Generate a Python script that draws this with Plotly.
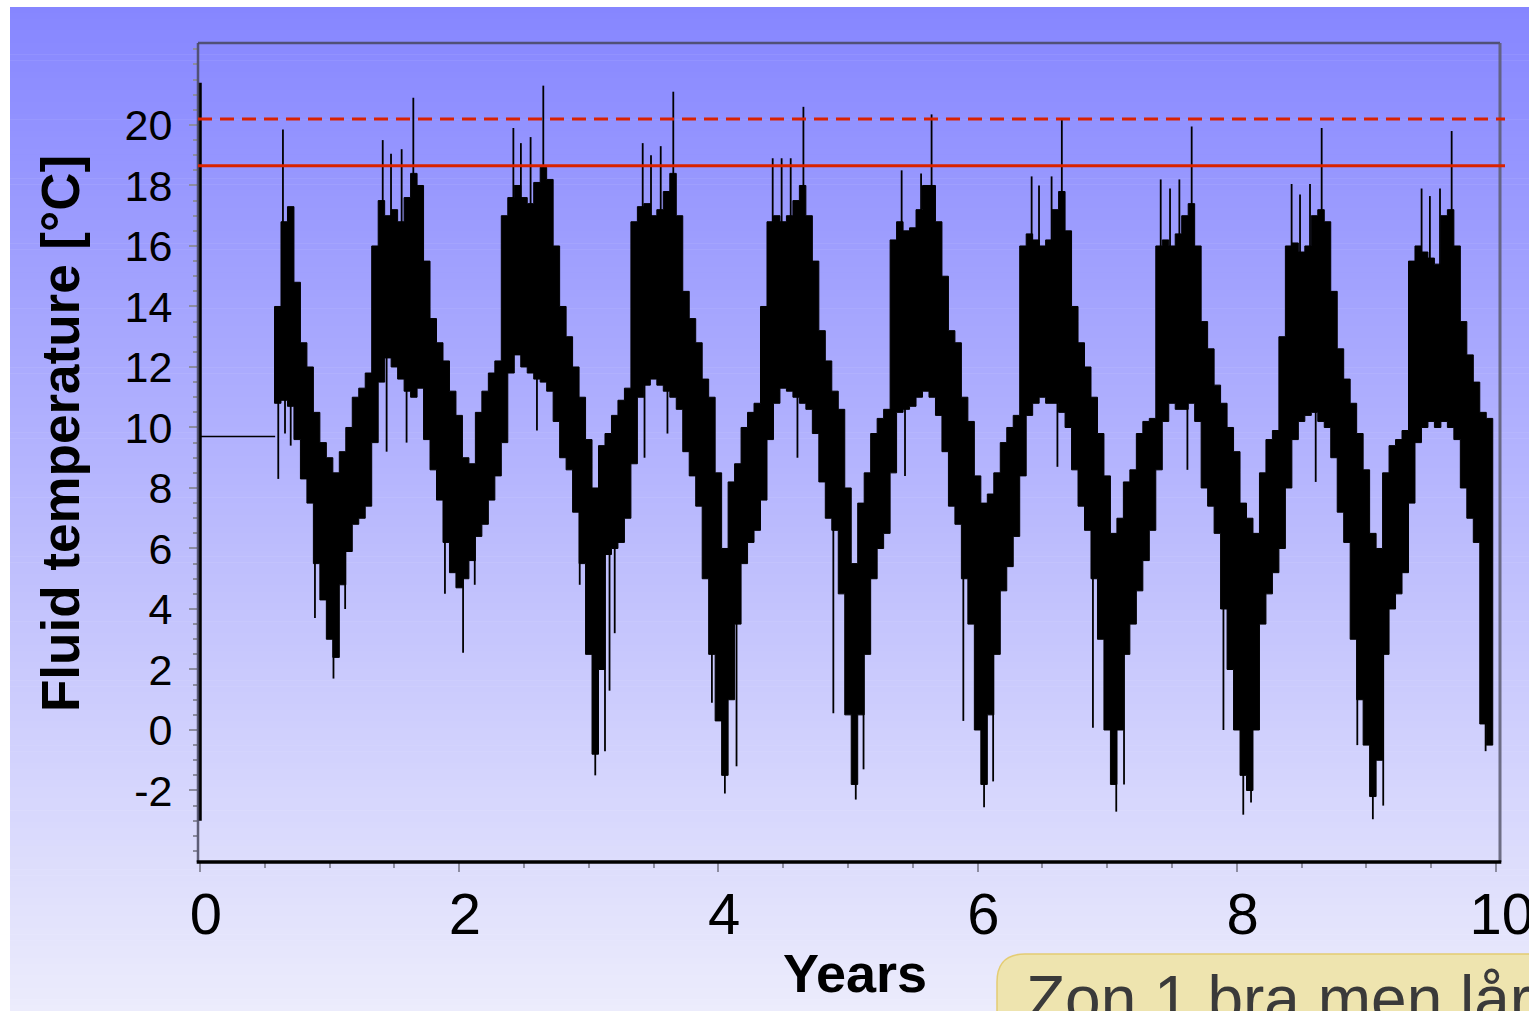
import plotly.graph_objects as go
import numpy as np

# ---------------- data ----------------
# body of the fluid-temperature signal: time [years], upper / lower envelope [°C]
t_body = [
    0.60, 0.65, 0.70, 0.75, 0.80, 0.85, 0.90, 0.95,
    1.00, 1.05, 1.10, 1.15, 1.20, 1.25, 1.30, 1.35, 1.40, 1.45, 1.50, 1.55, 1.60, 1.65, 1.70, 1.75, 1.80, 1.85, 1.90, 1.95,
    2.00, 2.05, 2.10, 2.15, 2.20, 2.25, 2.30, 2.35, 2.40, 2.45, 2.50, 2.55, 2.60, 2.65, 2.70, 2.75, 2.80, 2.85, 2.90, 2.95,
    3.00, 3.05, 3.10, 3.15, 3.20, 3.25, 3.30, 3.35, 3.40, 3.45, 3.50, 3.55, 3.60, 3.65, 3.70, 3.75, 3.80, 3.85, 3.90, 3.95,
    4.00, 4.05, 4.10, 4.15, 4.20, 4.25, 4.30, 4.35, 4.40, 4.45, 4.50, 4.55, 4.60, 4.65, 4.70, 4.75, 4.80, 4.85, 4.90, 4.95,
    5.00, 5.05, 5.10, 5.15, 5.20, 5.25, 5.30, 5.35, 5.40, 5.45, 5.50, 5.55, 5.60, 5.65, 5.70, 5.75, 5.80, 5.85, 5.90, 5.95,
    6.00, 6.05, 6.10, 6.15, 6.20, 6.25, 6.30, 6.35, 6.40, 6.45, 6.50, 6.55, 6.60, 6.65, 6.70, 6.75, 6.80, 6.85, 6.90, 6.95,
    7.00, 7.05, 7.10, 7.15, 7.20, 7.25, 7.30, 7.35, 7.40, 7.45, 7.50, 7.55, 7.60, 7.65, 7.70, 7.75, 7.80, 7.85, 7.90, 7.95,
    8.00, 8.05, 8.10, 8.15, 8.20, 8.25, 8.30, 8.35, 8.40, 8.45, 8.50, 8.55, 8.60, 8.65, 8.70, 8.75, 8.80, 8.85, 8.90, 8.95,
    9.00, 9.05, 9.10, 9.15, 9.20, 9.25, 9.30, 9.35, 9.40, 9.45, 9.50, 9.55, 9.60, 9.65, 9.70, 9.75, 9.80, 9.85, 9.90, 9.95,
]
upper = [
    14.0, 16.8, 17.3, 14.8, 12.8, 12.0, 10.5, 9.5,
    9.0, 8.5, 9.2, 10.0, 11.0, 11.3, 11.8, 16.0, 17.5, 17.0, 17.2, 16.8, 17.6, 18.4, 18.0, 15.5, 13.6, 12.8, 12.2, 11.2,
    10.4, 9.0, 8.8, 10.5, 11.2, 11.8, 12.2, 17.0, 17.6, 18.0, 17.6, 17.4, 18.1, 18.6, 18.2, 16.0, 14.0, 13.0, 12.0, 11.0,
    9.6, 8.0, 9.4, 9.8, 10.4, 10.9, 11.3, 16.8, 17.3, 17.4, 17.0, 17.2, 17.8, 18.4, 17.0, 14.5, 13.6, 12.8, 11.6, 11.0,
    8.5, 6.0, 8.2, 8.8, 10.0, 10.5, 10.8, 14.0, 16.8, 17.0, 16.8, 17.0, 17.5, 18.0, 17.0, 15.5, 13.2, 12.2, 11.2, 10.6,
    8.0, 5.5, 7.5, 8.5, 9.8, 10.3, 10.6, 16.2, 16.8, 16.5, 16.6, 17.2, 18.0, 18.0, 16.8, 15.0, 13.2, 12.8, 11.0, 10.2,
    8.4, 7.5, 7.8, 8.5, 9.5, 10.0, 10.4, 16.0, 16.4, 16.2, 16.0, 16.2, 17.2, 17.8, 16.5, 14.0, 12.8, 12.0, 11.0, 9.8,
    8.4, 6.5, 7.0, 8.2, 8.6, 9.8, 10.2, 10.3, 16.0, 16.2, 16.0, 16.4, 17.0, 17.4, 16.0, 13.5, 12.6, 11.4, 10.8, 10.0,
    9.2, 7.5, 7.0, 6.5, 8.5, 9.6, 9.9, 13.0, 16.0, 16.1, 15.8, 16.0, 17.0, 17.2, 16.8, 14.5, 12.6, 11.6, 10.8, 9.8,
    8.6, 6.5, 6.0, 8.5, 9.4, 9.6, 9.9, 15.5, 16.0, 15.8, 15.6, 15.4, 17.0, 17.2, 16.0, 13.5, 12.4, 11.5, 10.5, 10.3,
]
lower = [
    10.8, 10.9, 10.7, 9.6, 8.3, 7.5, 5.5, 4.3,
    3.0, 2.4, 4.8, 5.9, 6.8, 7.0, 7.4, 9.5, 11.5, 12.3, 12.0, 11.6, 11.2, 11.0, 11.3, 9.6, 8.6, 7.6, 6.2, 5.2,
    4.7, 5.0, 5.6, 6.4, 6.8, 7.6, 8.4, 9.5, 11.8, 12.4, 12.0, 11.8, 11.6, 11.5, 11.2, 10.2, 9.0, 8.6, 7.2, 5.5,
    2.5, -0.8, 2.0, 5.8, 6.0, 6.2, 7.0, 8.8, 11.0, 11.4, 11.6, 11.4, 11.2, 11.0, 10.6, 9.2, 8.4, 7.4, 5.0, 2.5,
    0.3, -1.5, 1.0, 3.5, 5.5, 6.2, 6.6, 7.6, 9.6, 10.8, 11.3, 11.2, 11.0, 10.8, 10.6, 9.8, 8.2, 7.0, 6.6, 4.5,
    0.5, -1.8, 0.5, 2.5, 5.0, 6.0, 6.5, 8.5, 10.5, 10.6, 10.7, 11.0, 11.2, 11.0, 10.4, 9.2, 7.4, 6.8, 5.0, 3.5,
    0.0, -1.8, 0.5, 2.5, 4.6, 5.4, 6.4, 8.4, 10.4, 10.8, 11.0, 10.8, 10.8, 10.5, 10.0, 8.6, 7.4, 6.6, 5.0, 3.0,
    0.0, -1.8, 0.0, 2.5, 3.5, 4.6, 5.6, 6.6, 8.6, 10.2, 10.8, 10.6, 10.6, 10.8, 10.2, 8.0, 7.4, 6.5, 4.0, 2.0,
    0.0, -1.5, -2.0, 0.0, 3.5, 4.5, 5.2, 6.0, 8.0, 9.6, 10.2, 10.4, 10.5, 10.2, 10.0, 9.0, 7.2, 6.2, 3.0, 1.0,
    -0.5, -2.2, -1.0, 2.5, 4.0, 4.5, 5.2, 7.5, 9.5, 10.0, 10.2, 10.0, 10.2, 10.0, 9.6, 8.0, 7.0, 6.2, 0.2, -0.5,
]

# single-sample peaks above the body
spike_up_t = [0.64, 1.41, 1.474, 1.556, 1.646, 2.418, 2.476, 2.551, 2.649, 3.416, 3.48, 3.555, 3.652,
              4.419, 4.488, 4.558, 4.656, 5.414, 5.564, 5.645, 6.417, 6.474, 6.571, 6.65, 7.413, 7.485,
              7.557, 7.652, 8.423, 8.488, 8.565, 8.655, 9.426, 9.49, 9.568, 9.658]
spike_up_v = [19.85, 19.5, 19.05, 19.2, 20.9, 19.9, 19.4, 19.6, 21.3, 19.4, 19.0, 19.3, 21.1,
              18.9, 18.9, 18.9, 20.6, 18.5, 18.4, 20.35, 18.3, 18.0, 18.3, 20.2, 18.2, 17.9,
              18.2, 19.95, 18.05, 17.7, 18.05, 19.9, 17.9, 17.65, 17.9, 19.8]
# single-sample dips below the body
spike_dn_t = [0.604, 0.656, 0.70, 0.887, 1.03, 1.12, 1.44, 1.594, 1.89, 2.03, 2.12, 2.60, 2.93, 3.05,
              3.125, 3.16, 3.20, 3.43, 3.607, 3.95, 4.05, 4.14, 4.61, 4.887, 5.06, 5.12, 5.44, 5.89,
              6.05, 6.12, 6.616, 6.89, 7.07, 7.13, 7.619, 7.897, 8.05, 8.11, 8.609, 8.93, 9.05, 9.13, 9.92]
spike_dn_v = [8.3, 9.8, 9.4, 3.7, 1.7, 4.0, 9.2, 9.5, 4.5, 2.55, 4.8, 9.9, 4.8, -1.5,
              -0.7, 1.3, 3.2, 9.0, 9.8, 0.9, -2.1, -1.2, 9.0, 0.55, -2.3, -1.3, 8.4, 0.3,
              -2.55, -1.7, 8.7, 0.07, -2.7, -1.8, 8.6, 0.0, -2.8, -2.4, 8.2, -0.5, -2.95, -2.5, -0.7]

# initial transient at t = 0 and the flat start-up period
init_t = [0.0]
init_lo = [-3.0]
init_hi = [21.4]
flat_t = [0.0, 0.58]
flat_v = [9.7, 9.7]

# limit lines
limit_dashed = 20.2
limit_solid = 18.65

x_tick_vals = [0, 2, 4, 6, 8, 10]
x_tick_text = ["0", "2", "4", "6", "8", "10"]
y_tick_vals = [-2, 0, 2, 4, 6, 8, 10, 12, 14, 16, 18, 20]
y_tick_text = ["-2", "0", "2", "4", "6", "8", "10", "12", "14", "16", "18", "20"]

x_title = "Years"
y_title = "Fluid temperature [°C]"
note_text = "Zon 1 bra men lår"

# ---------------- layout geometry ----------------
W, H = 1529, 1011
PL, PR, PT, PB = 198, 1500, 43, 862
X_RANGE = [-0.0154, 10.031]
Y_RANGE = [-4.364, 22.71]


def xp(px):
    return (px - PL) / (PR - PL)


def yp(py):
    return (PB - py) / (PB - PT)


FONT = "Liberation Sans, Arial, sans-serif"

fig = go.Figure()

# body of signal as stepped filled polygon
step = 0.05
poly_x, poly_y = [], []
for t, u in zip(t_body, upper):
    poly_x += [t - step / 2, t + step / 2]
    poly_y += [u, u]
for t, l in reversed(list(zip(t_body, lower))):
    poly_x += [t + step / 2, t - step / 2]
    poly_y += [l, l]
poly_x.append(poly_x[0])
poly_y.append(poly_y[0])

fig.add_trace(go.Scatter(x=poly_x, y=poly_y, mode="lines", fill="toself",
                         fillcolor="black", line=dict(color="black", width=1),
                         hoverinfo="skip", showlegend=False))

mid = (np.array(upper) + np.array(lower)) / 2.0
sx, sy = [], []
for t, v in zip(spike_up_t, spike_up_v):
    sx += [t, t, None]
    sy += [float(np.interp(t, t_body, mid)), v, None]
for t, v in zip(spike_dn_t, spike_dn_v):
    sx += [t, t, None]
    sy += [float(np.interp(t, t_body, mid)), v, None]
fig.add_trace(go.Scatter(x=sx, y=sy, mode="lines", line=dict(color="black", width=1.8),
                         hoverinfo="skip", showlegend=False))

# flat start and the initial transient
fig.add_trace(go.Scatter(x=flat_t, y=flat_v, mode="lines", line=dict(color="black", width=1.5),
                         hoverinfo="skip", showlegend=False))
ix, iy = [], []
for t, lo, hi in zip(init_t, init_lo, init_hi):
    ix += [t, t, None]
    iy += [lo, hi, None]
fig.add_trace(go.Scatter(x=ix, y=iy, mode="lines", line=dict(color="black", width=3.5),
                         hoverinfo="skip", showlegend=False, cliponaxis=False))

shapes = []
# gradient background
top_c = np.array([134, 134, 255])
bot_c = np.array([236, 236, 252])
y0px, y1px = 7, H
nb = 170
for i in range(nb):
    a = y0px + (y1px - y0px) * i / nb
    b = y0px + (y1px - y0px) * (i + 1) / nb
    f = (i + 0.5) / nb
    c = top_c + (bot_c - top_c) * f
    shapes.append(dict(type="rect", xref="paper", yref="paper", layer="below",
                       x0=xp(10), x1=xp(W + 5), y0=yp(b + 0.6), y1=yp(a),
                       fillcolor="rgb(%d,%d,%d)" % tuple(np.round(c).astype(int)),
                       line=dict(width=0)))

# frame
frame_gray = "rgba(70,70,95,0.85)"
shapes.append(dict(type="line", xref="paper", yref="paper", x0=0, x1=1, y0=1, y1=1,
                   line=dict(color=frame_gray, width=2.5), layer="above"))
shapes.append(dict(type="line", xref="paper", yref="paper", x0=0, x1=0, y0=0, y1=1,
                   line=dict(color=frame_gray, width=2.5), layer="above"))
shapes.append(dict(type="line", xref="paper", yref="paper", x0=1, x1=1, y0=0, y1=1,
                   line=dict(color="rgba(90,90,110,0.85)", width=3), layer="above"))
shapes.append(dict(type="line", xref="paper", yref="paper", x0=-0.001, x1=1.001, y0=0, y1=0,
                   line=dict(color="black", width=3.5), layer="above"))

# limit lines
shapes.append(dict(type="line", xref="paper", yref="y", x0=0, x1=xp(1505),
                   y0=limit_dashed, y1=limit_dashed,
                   line=dict(color="#d92200", width=3, dash="14px,8px"), layer="above"))
shapes.append(dict(type="line", xref="paper", yref="y", x0=0, x1=xp(1505),
                   y0=limit_solid, y1=limit_solid,
                   line=dict(color="#d92200", width=3), layer="above"))

# note box (rounded, cut off by the page edge)
bx0, by0, r = 997, 954, 28
bx1, by1 = W + 20, H + 20
path = ("M {a},{b} L {a},{c} Q {a},{d} {e},{d} L {f},{d} L {f},{b} Z"
        .format(a=xp(bx0), b=yp(by1), c=yp(by0 + r), d=yp(by0), e=xp(bx0 + r), f=xp(bx1)))
shapes.append(dict(type="path", xref="paper", yref="paper", path=path,
                   fillcolor="rgb(238,228,175)", line=dict(color="rgb(228,204,115)", width=1.5),
                   layer="above"))

annotations = [
    dict(text="<b>%s</b>" % x_title, xref="paper", yref="paper", x=xp(855), y=yp(973),
         xanchor="center", yanchor="middle", showarrow=False,
         font=dict(family=FONT, size=54, color="black")),
    dict(text="<b>%s</b>" % y_title, xref="paper", yref="paper", x=xp(60), y=yp(434),
         xanchor="center", yanchor="middle", showarrow=False, textangle=-90,
         font=dict(family=FONT, size=53, color="black")),
    dict(text=note_text, xref="paper", yref="paper", x=xp(1024), y=yp(961),
         xanchor="left", yanchor="top", showarrow=False,
         font=dict(family=FONT, size=64, color="#3a3a3a")),
]

tick_gray = "#8c8ca0"
fig.update_layout(
    width=W, height=H,
    margin=dict(l=PL, r=W - PR, t=PT, b=H - PB, pad=0, autoexpand=False),
    paper_bgcolor="white",
    plot_bgcolor="rgba(0,0,0,0)",
    showlegend=False,
    shapes=shapes,
    annotations=annotations,
    xaxis=dict(range=X_RANGE, tickmode="array", tickvals=x_tick_vals,
               ticktext=["\u2009" + s for s in x_tick_text],
               ticks="outside", ticklen=9, tickwidth=2, tickcolor=tick_gray,
               minor=dict(tickmode="linear", tick0=0, dtick=0.5, ticks="outside", ticklen=5,
                          tickwidth=2, tickcolor=tick_gray, showgrid=False),
               showgrid=False, zeroline=False, showline=False, automargin=False,
               ticklabelstandoff=-8, ticklabeloverflow="allow",
               tickfont=dict(family=FONT, size=58, color="black")),
    yaxis=dict(range=Y_RANGE, tickmode="array", tickvals=y_tick_vals, ticktext=y_tick_text,
               ticks="outside", ticklen=8, tickwidth=2, tickcolor=tick_gray,
               minor=dict(tickmode="linear", tick0=0, dtick=0.5, ticks="outside", ticklen=4,
                          tickwidth=2, tickcolor=tick_gray, showgrid=False),
               showgrid=False, zeroline=False, showline=False, automargin=False,
               ticklabelstandoff=8, ticklabeloverflow="allow",
               tickfont=dict(family=FONT, size=43, color="black")),
)

fig.write_html("out.html", config={"displayModeBar": False},
               post_script="document.body.style.margin='0';document.body.style.overflow='hidden';")
